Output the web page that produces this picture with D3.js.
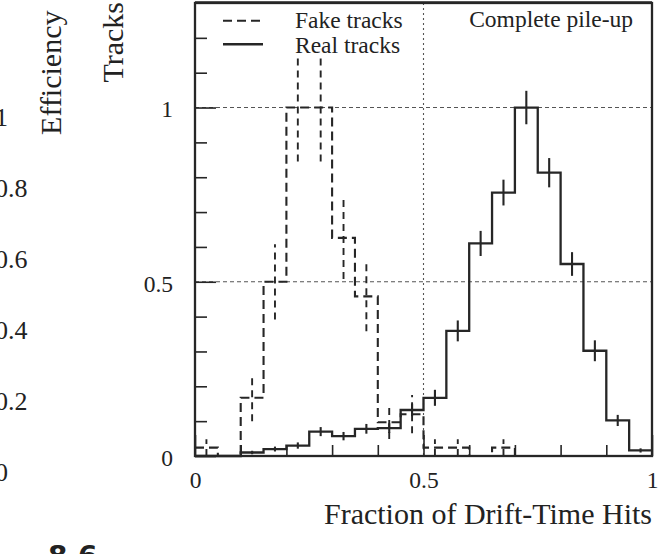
<!DOCTYPE html>
<html>
<head>
<meta charset="utf-8">
<script src="https://cdn.jsdelivr.net/npm/d3@7"></script>
<style>
  html, body { margin: 0; padding: 0; background: #fff; }
  svg { display: block; }
  text { font-family: "Liberation Serif", "DejaVu Serif", serif; fill: #222; }
</style>
</head>
<body>
<svg id="chart" width="661" height="554"></svg>
<script>
// ---- data ----
const binEdges = [0, 0.05, 0.1, 0.15, 0.2, 0.25, 0.3, 0.35, 0.4, 0.45, 0.5,
                  0.55, 0.6, 0.65, 0.7, 0.75, 0.8, 0.85, 0.9, 0.95, 1.0];
const fakeValues = [0.024, 0, 0.167, 0.5, 1.0, 1.0, 0.626, 0.458, 0.097, 0.12,
                    0.024, 0.024, 0, 0.024, 0, 0, 0, 0, 0, 0];
const fakeErrors = [0.024, 0, 0.067, 0.108, 0.155, 0.155, 0.118, 0.1, 0.048, 0.055,
                    0.024, 0.024, 0, 0.024, 0, 0, 0, 0, 0, 0];
const realValues = [0, 0, 0.01, 0.02, 0.03, 0.07, 0.057, 0.078, 0.08, 0.132,
                    0.167, 0.359, 0.61, 0.756, 1.0, 0.813, 0.551, 0.302, 0.102, 0.016];
const realErrors = [0, 0, 0.005, 0.007, 0.009, 0.013, 0.012, 0.014, 0.014, 0.018,
                    0.023, 0.03, 0.036, 0.037, 0.048, 0.042, 0.034, 0.03, 0.016, 0.006];
const xTickLabels = [0, 0.5, 1];
const yTickLabels = [0, 0.5, 1];
const xMinorTicks = [0.1, 0.2, 0.3, 0.4, 0.6, 0.7, 0.8, 0.9];
const yMinorTicks = [0.1, 0.2, 0.3, 0.4, 0.6, 0.7, 0.8, 0.9, 1.1, 1.2];
const yGrid = [0.5, 1];
const xGrid = [0.5];
const sideLabels = ["1", "0.8", "0.6", "0.4", "0.2", "0"];
const sideValues = [1, 0.8, 0.6, 0.4, 0.2, 0];
const legendItems = ["Fake tracks", "Real tracks"];

// ---- layout ----
const svg = d3.select("#chart");
const L = 195, R = 652, T = 3, B = 456;
const x = d3.scaleLinear().domain([0, 1]).range([L, R]);
const y = d3.scaleLinear().domain([0, 1.3]).range([B, T]);
const ink = "#262626";
const fmt = d => d === 0 ? "0" : (d === 1 ? "1" : String(d));

// grid
svg.append("g").selectAll("line").data(yGrid).join("line")
  .attr("x1", L).attr("x2", R).attr("y1", d => y(d)).attr("y2", d => y(d))
  .attr("stroke", "#555").attr("stroke-width", 1.1).attr("stroke-dasharray", "4,3");
svg.append("g").selectAll("line").data(xGrid).join("line")
  .attr("x1", d => x(d)).attr("x2", d => x(d)).attr("y1", T).attr("y2", B)
  .attr("stroke", "#555").attr("stroke-width", 1.1).attr("stroke-dasharray", "2,3");

// axes (ticks inward)
function styleAxis(g) {
  g.select(".domain").remove();
  g.selectAll(".tick line").attr("stroke", ink).attr("stroke-width", 1.6);
  g.selectAll(".tick text").style("font-family", '"Liberation Serif", serif')
    .style("font-size", "23.5px").attr("fill", "#222");
}
svg.append("g").attr("transform", `translate(${L},0)`)
  .call(d3.axisLeft(y).tickValues(yMinorTicks).tickSize(-12).tickFormat(""))
  .call(styleAxis);
svg.append("g").attr("transform", `translate(${L},0)`)
  .call(d3.axisLeft(y).tickValues(yTickLabels).tickSize(-21).tickPadding(22).tickFormat(fmt))
  .call(styleAxis)
  .call(g => g.selectAll(".tick text").attr("dy", "0.4em"));
svg.append("g").attr("transform", `translate(0,${B})`)
  .call(d3.axisBottom(x).tickValues(xMinorTicks).tickSize(-11).tickFormat(""))
  .call(styleAxis);
svg.append("g").attr("transform", `translate(0,${B})`)
  .call(d3.axisBottom(x).tickValues(xTickLabels).tickSize(-21).tickPadding(15).tickFormat(fmt))
  .call(styleAxis);

// histograms
const stepPts = vals => binEdges.map((e, i) => [e, i < vals.length ? vals[i] : vals[vals.length - 1]]);
const step = d3.line().x(d => x(d[0])).y(d => y(d[1])).curve(d3.curveStepAfter);

svg.append("path").attr("d", step(stepPts(realValues)))
  .attr("fill", "none").attr("stroke", ink).attr("stroke-width", 2.3);
svg.append("path").attr("d", step(stepPts(fakeValues)))
  .attr("fill", "none").attr("stroke", ink).attr("stroke-width", 2.1)
  .attr("stroke-dasharray", "9,5");

const centers = binEdges.slice(0, -1).map((e, i) => (e + binEdges[i + 1]) / 2);
function errBars(vals, errs, dashed) {
  const data = centers.map((c, i) => ({c, v: vals[i], e: errs[i]})).filter(d => d.e > 0);
  svg.append("g").selectAll("line").data(data).join("line")
    .attr("x1", d => x(d.c)).attr("x2", d => x(d.c))
    .attr("y1", d => y(Math.max(0, d.v - d.e))).attr("y2", d => y(d.v + d.e))
    .attr("stroke", ink).attr("stroke-width", dashed ? 1.9 : 2.1)
    .attr("stroke-dasharray", dashed ? "7,5" : null);
}
errBars(realValues, realErrors, false);
errBars(fakeValues, fakeErrors, true);

// frame
svg.append("rect").attr("x", L).attr("y", T).attr("width", R - L).attr("height", B - T)
  .attr("fill", "none").attr("stroke", ink).attr("stroke-width", 2.3);
svg.append("line").attr("x1", L).attr("x2", R).attr("y1", T - 0.5).attr("y2", T - 0.5)
  .attr("stroke", ink).attr("stroke-width", 2.5);

// legend
const leg = svg.append("g");
legendItems.forEach((t, i) => {
  const ly = [20.7, 44.3][i];
  leg.append("line").attr("x1", 223).attr("x2", 263).attr("y1", ly).attr("y2", ly)
    .attr("stroke", ink).attr("stroke-width", i === 0 ? 2 : 2.6)
    .attr("stroke-dasharray", i === 0 ? "9,5" : null);
  leg.append("text").attr("x", 295).attr("y", [28.3, 52.5][i])
    .style("font-size", "23.5px").text(t);
});
svg.append("text").attr("x", 633).attr("y", 27.3).attr("text-anchor", "end")
  .style("font-size", "23.5px").text("Complete pile-up");

// axis titles
svg.append("text").attr("x", R).attr("y", 523.5).attr("text-anchor", "end")
  .style("font-size", "30px").text("Fraction of Drift-Time Hits");
svg.append("text").attr("transform", "translate(122.5,2) rotate(-90)")
  .attr("text-anchor", "end").style("font-size", "30px").text("Tracks");
svg.append("text").attr("transform", "translate(61,10.5) rotate(-90)")
  .attr("text-anchor", "end").style("font-size", "30px").text("Efficiency");

// partially visible labels of the neighbouring panel (cut at the left edge, as in the reference)
const ySide = d3.scaleLinear().domain([0, 1]).range([472, 117]);
svg.append("g").selectAll("text").data(sideLabels).join("text")
  .attr("x", -5).attr("y", (d, i) => ySide(sideValues[i])).attr("dy", "0.36em")
  .style("font-size", "26px").text(d => d);

// partially visible caption at the bottom
svg.append("text").attr("x", 48).attr("y", 566)
  .style("font-family", '"DejaVu Sans", sans-serif').style("font-size", "28px")
  .style("font-weight", "bold").attr("fill", "#111").text("8.6");
</script>
</body>
</html>
